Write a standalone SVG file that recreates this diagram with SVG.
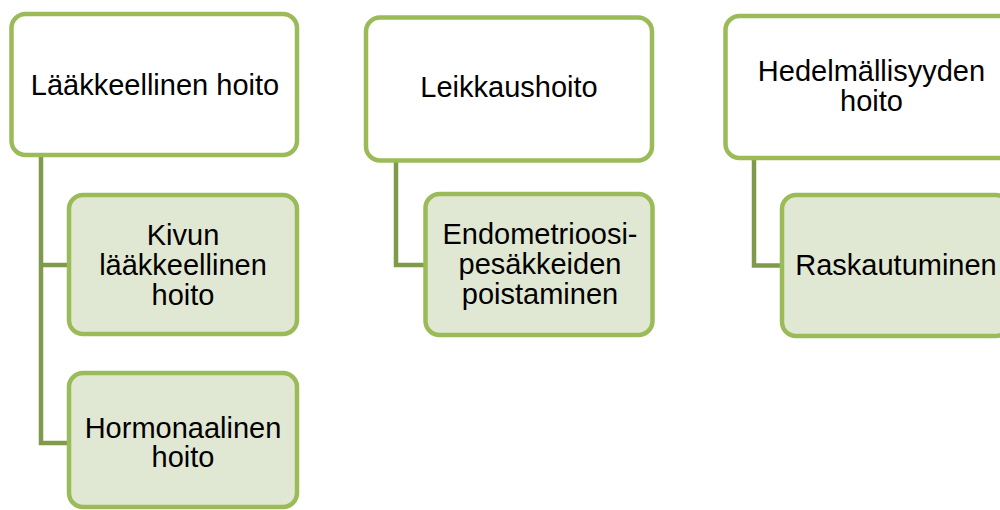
<svg xmlns="http://www.w3.org/2000/svg" width="1000" height="510" viewBox="0 0 1000 510">
  <style>
    .parent { fill: #FFFFFF; stroke: #9BBB59; stroke-width: 4.5; }
    .child { fill: #E0E8D4; stroke: #9BBB59; stroke-width: 4.5; }
    .link { fill: none; stroke: #7F9A48; stroke-width: 4.5; stroke-linejoin: miter; }
    .label { font-family: "Liberation Sans", Arial, sans-serif; font-size: 29px; fill: #000000; text-anchor: middle; }
  </style>
  <rect width="1000" height="510" fill="#FFFFFF"/>

  <!-- connectors: parent left edge down to each child -->
  <g id="connectors">
    <path class="link" d="M41 157 V443 H69"/>
    <path class="link" d="M41 265 H69"/>
    <path class="link" d="M396 160 V265 H426"/>
    <path class="link" d="M754 158 V265.5 H782"/>
  </g>

  <!-- column 1 -->
  <g id="laakkeellinen-hoito">
    <rect class="parent" x="11.5" y="14" width="285.5" height="141" rx="14"/>
    <text class="label" x="155" y="94.5">Lääkkeellinen hoito</text>
  </g>
  <g id="kivun-laakkeellinen-hoito">
    <rect class="child" x="69" y="195" width="228" height="139" rx="14"/>
    <text class="label" x="183" y="244.5">Kivun</text>
    <text class="label" x="183" y="274.5">lääkkeellinen</text>
    <text class="label" x="183" y="304.5">hoito</text>
  </g>
  <g id="hormonaalinen-hoito">
    <rect class="child" x="69" y="373" width="228" height="134" rx="14"/>
    <text class="label" x="183" y="437.5">Hormonaalinen</text>
    <text class="label" x="183" y="467">hoito</text>
  </g>

  <!-- column 2 -->
  <g id="leikkaushoito">
    <rect class="parent" x="366" y="17.5" width="286" height="143" rx="14"/>
    <text class="label" x="509" y="96.5">Leikkaushoito</text>
  </g>
  <g id="endometrioosipesakkeiden-poistaminen">
    <rect class="child" x="425.5" y="194" width="227" height="141" rx="14"/>
    <text class="label" x="540" y="243.5">Endometrioosi-</text>
    <text class="label" x="540" y="273.5">pesäkkeiden</text>
    <text class="label" x="540" y="303.5">poistaminen</text>
  </g>

  <!-- column 3 -->
  <g id="hedelmallisyyden-hoito">
    <rect class="parent" x="725.5" y="16" width="292" height="142" rx="14"/>
    <text class="label" x="871.5" y="81">Hedelmällisyyden</text>
    <text class="label" x="871.5" y="111">hoito</text>
  </g>
  <g id="raskautuminen">
    <rect class="child" x="782" y="195" width="228" height="141" rx="14"/>
    <text class="label" x="896" y="275">Raskautuminen</text>
  </g>
</svg>
